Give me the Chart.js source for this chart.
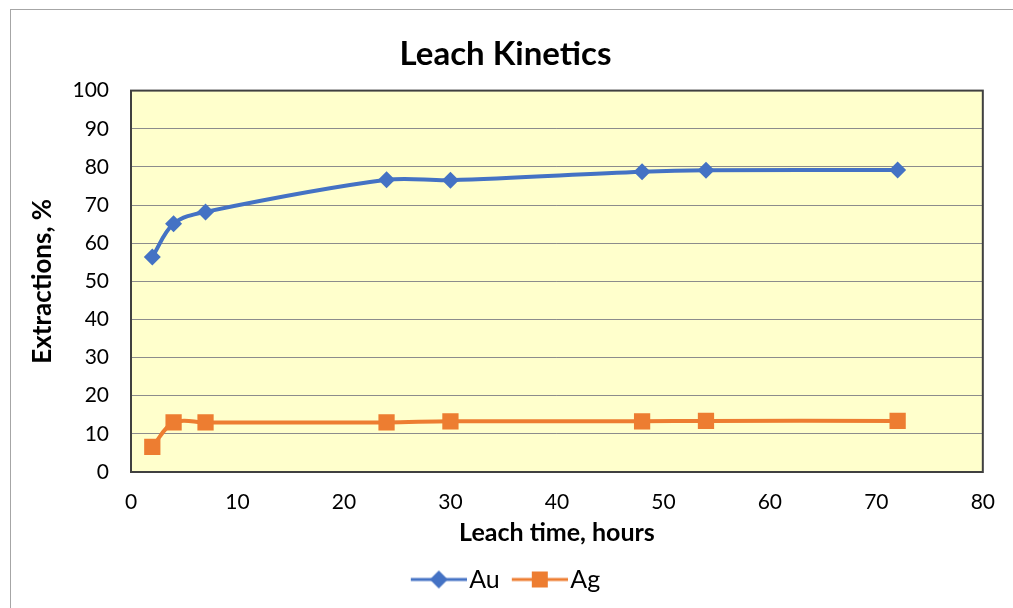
<!DOCTYPE html>
<html>
<head>
  <meta charset="utf-8" />
  <title>Leach Kinetics</title>
  <style>
    body { margin: 0; background: #fff; }
    #wrap { width: 1013px; height: 608px; }
  </style>
</head>
<body>
  <div id="wrap"><canvas id="stage"></canvas></div>

  <script src="https://cdn.jsdelivr.net/npm/chart.js@4.4.0/dist/chart.umd.min.js"></script>
  <script>
    // 浸出時間 (h) と抽出率 (%)
    const hours = [2, 4, 7, 24, 30, 48, 54, 72];
    const au = [56.4, 65.1, 68.2, 76.6, 76.5, 78.7, 79.1, 79.2];
    const ag = [6.6, 13.0, 13.0, 13.0, 13.3, 13.3, 13.4, 13.4];
    const xTicks = [0, 10, 20, 30, 40, 50, 60, 70, 80];
    const yTicks = [0, 10, 20, 30, 40, 50, 60, 70, 80, 90, 100];

    const blue = '#4472C4';
    const orange = '#ED7D31';
    const font = 'Lato, "Liberation Sans", sans-serif';

    // 凡例用: 線の中央にマーカー (右へ10pxずらして描く)
    function legendIcon(color, shape) {
      const c = document.createElement('canvas');
      c.width = 66; c.height = 20;
      const g = c.getContext('2d');
      g.strokeStyle = color;
      g.lineWidth = 3;
      g.beginPath(); g.moveTo(10, 10); g.lineTo(66, 10); g.stroke();
      g.fillStyle = color;
      if (shape === 'diamond') {
        g.beginPath();
        g.moveTo(38, 1); g.lineTo(47, 10); g.lineTo(38, 19); g.lineTo(29, 10);
        g.closePath(); g.fill();
      } else {
        g.fillRect(30, 2, 16, 16);
      }
      return c;
    }
    const icons = [legendIcon(blue, 'diamond'), legendIcon(orange, 'square')];

    const frame = {
      id: 'frame',
      beforeDraw(chart) {
        const ctx = chart.ctx;
        const a = chart.chartArea;
        ctx.save();
        ctx.strokeStyle = '#a6a6a6';
        ctx.lineWidth = 1;
        ctx.strokeRect(10.5, 9.5, chart.width + 20, chart.height + 20);
        ctx.fillStyle = '#FFFFCC';
        ctx.fillRect(a.left, a.top, a.right - a.left, a.bottom - a.top);
        ctx.restore();
      },
      beforeDatasetsDraw(chart) {
        const ctx = chart.ctx;
        const a = chart.chartArea;
        ctx.save();
        ctx.strokeStyle = '#404040';
        ctx.lineWidth = 2;
        ctx.strokeRect(a.left, a.top, a.right - a.left, a.bottom - a.top);
        ctx.restore();
      }
    };

    new Chart(document.getElementById('stage'), {
      type: 'line',
      data: {
        datasets: [{
          label: 'Au',
          data: hours.map((h, i) => ({ x: h, y: au[i] })),
          borderColor: blue,
          backgroundColor: blue,
          borderWidth: 4,
          pointStyle: 'rectRot',
          pointRadius: 8.5,
          pointBorderWidth: 0,
          tension: 0.35,
        }, {
          label: 'Ag',
          data: hours.map((h, i) => ({ x: h, y: ag[i] })),
          borderColor: orange,
          backgroundColor: orange,
          borderWidth: 4,
          pointStyle: 'rect',
          pointRadius: 11.5,
          pointBorderWidth: 0,
          tension: 0.35,
        }]
      },
      options: {
        responsive: true,
        maintainAspectRatio: false,
        animation: false,
        layout: { padding: { left: 25, right: 27, top: 0, bottom: 6 } },
        plugins: {
          title: {
            display: true,
            text: 'Leach Kinetics',
            color: '#000',
            font: { family: font, size: 33, weight: 'bold' },
            padding: { top: 35, bottom: 16 },
          },
          legend: {
            position: 'bottom',
            labels: {
              color: '#000',
              font: { family: font, size: 25 },
              usePointStyle: true,
              pointStyleWidth: 46,
              boxHeight: 20,
              padding: 12,
              generateLabels(chart) {
                return chart.data.datasets.map((d, i) => ({
                  text: d.label,
                  fontColor: '#000',
                  pointStyle: icons[i],
                  datasetIndex: i,
                  lineWidth: 0,
                }));
              }
            }
          },
          tooltip: { enabled: false },
        },
        scales: {
          x: {
            type: 'linear',
            min: 0, max: 80,
            afterBuildTicks(s) { s.ticks = xTicks.map(v => ({ value: v })); },
            grid: { display: false, drawTicks: false },
            border: { display: false },
            ticks: { color: '#000', font: { family: font, size: 21 }, padding: 18 },
            title: {
              display: true,
              text: 'Leach time, hours',
              color: '#000',
              font: { family: font, size: 25, weight: 'bold' },
              padding: { top: 0, bottom: 7 },
            },
            afterFit(s) { s.height = 83; },
          },
          y: {
            min: 0, max: 100,
            afterBuildTicks(s) { s.ticks = yTicks.map(v => ({ value: v })); },
            grid: { color: '#8c8c8c', lineWidth: 1, drawTicks: false },
            border: { display: false },
            ticks: { color: '#000', font: { family: font, size: 21 }, padding: 22 },
            title: {
              display: true,
              text: 'Extractions, %',
              color: '#000',
              font: { family: font, size: 26, weight: 'bold' },
              padding: { top: 2, bottom: 0 },
            },
            afterFit(s) { s.width = 106; },
          }
        }
      },
      plugins: [frame],
    });
  </script>
</body>
</html>
